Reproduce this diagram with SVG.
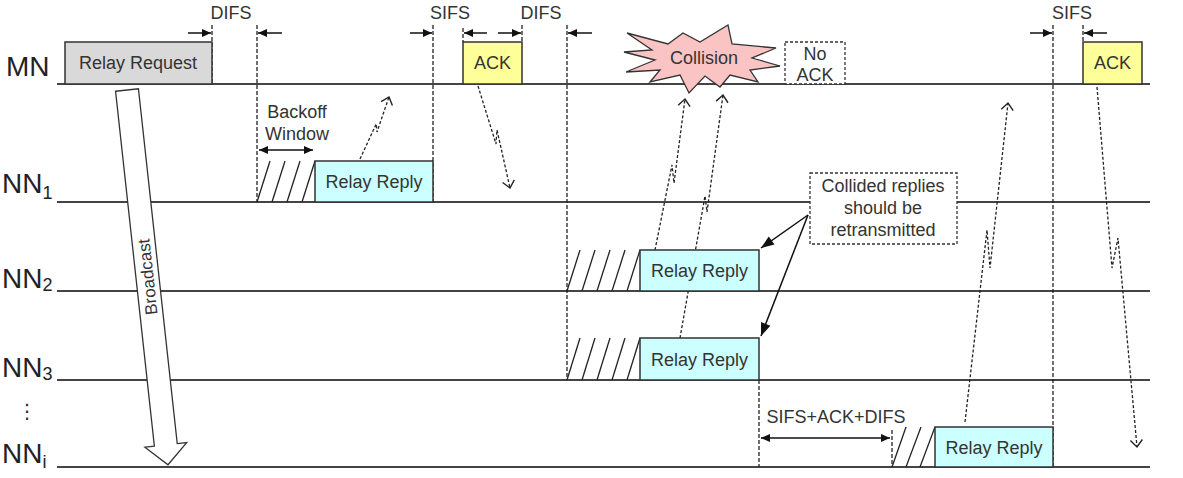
<svg xmlns="http://www.w3.org/2000/svg" width="1183" height="478" viewBox="0 0 1183 478">
<style>
.tl{stroke:#444;stroke-width:2;fill:none}
.vd{stroke:#222;stroke-width:1.3;stroke-dasharray:4 2;fill:none}
.box{stroke:#333;stroke-width:1.5}
.rr{fill:#ccffff}
.ack{fill:#ffff99}
.dbox{fill:#fff;stroke:#333;stroke-width:1.3;stroke-dasharray:3 2}
.t{font-family:"Liberation Sans",Arial,sans-serif;font-size:18px;fill:#333;text-anchor:middle}
.lbl{font-family:"Liberation Sans",Arial,sans-serif;font-size:28px;fill:#222}
.sub{font-size:18px}
.sig{stroke:#222;stroke-width:1.3;stroke-dasharray:3 2;fill:none;marker-end:url(#open)}
.hatch{stroke:#222;stroke-width:1.3}
.sm{stroke:#111;stroke-width:1.5;marker-end:url(#fs)}
.dbl{stroke:#111;stroke-width:1.5;marker-end:url(#fs);marker-start:url(#fs)}
.big{stroke:#111;stroke-width:1.5;marker-end:url(#fb)}
</style>
<defs>
<marker id="open" viewBox="-10 -10 20 20" markerWidth="20" markerHeight="20" refX="0" refY="0" orient="auto" markerUnits="userSpaceOnUse">
<path d="M-7,-6 L0,0 L-7,6" fill="none" stroke="#222" stroke-width="1.4"/>
</marker>
<marker id="fs" viewBox="-10 -10 20 20" markerWidth="20" markerHeight="20" refX="0" refY="0" orient="auto-start-reverse" markerUnits="userSpaceOnUse">
<path d="M-9,-4 L0,0 L-9,4 z" fill="#111"/>
</marker>
<marker id="fb" viewBox="-15 -10 20 20" markerWidth="20" markerHeight="20" refX="0" refY="0" orient="auto" markerUnits="userSpaceOnUse">
<path d="M-13,-5 L0,0 L-13,5 z" fill="#111"/>
</marker>
</defs>

<g id="timelines">
<line class="tl" x1="57" y1="84" x2="1150" y2="84"/>
<line class="tl" x1="57" y1="202" x2="1150" y2="202"/>
<line class="tl" x1="57" y1="291" x2="1150" y2="291"/>
<line class="tl" x1="57" y1="380" x2="1150" y2="380"/>
<line class="tl" x1="57" y1="467" x2="1150" y2="467"/>
</g>

<g id="labels">
<text class="lbl" x="6" y="76">MN</text>
<text class="lbl" x="2" y="193">NN<tspan class="sub" dy="6">1</tspan></text>
<text class="lbl" x="2" y="288">NN<tspan class="sub" dy="3">2</tspan></text>
<text class="lbl" x="2" y="377">NN<tspan class="sub" dy="3">3</tspan></text>
<text class="lbl" x="2" y="463">NN<tspan class="sub" dy="5">i</tspan></text>
<text class="t" x="27" y="418" style="font-family:'DejaVu Sans',sans-serif;font-size:20px">⋮</text>
</g>

<g id="connectors">
<line class="vd" x1="212" y1="25" x2="212" y2="84"/>
<line class="vd" x1="257" y1="25" x2="257" y2="202"/>
<line class="vd" x1="433" y1="25" x2="433" y2="202"/>
<line class="vd" x1="463" y1="28" x2="463" y2="42"/>
<line class="vd" x1="522" y1="25" x2="522" y2="42"/>
<line class="vd" x1="567" y1="25" x2="567" y2="380"/>
<line class="vd" x1="1053" y1="25" x2="1053" y2="467"/>
<line class="vd" x1="1083" y1="25" x2="1083" y2="42"/>
<line class="vd" x1="759" y1="380" x2="759" y2="467"/>
<line class="vd" x1="892" y1="430" x2="892" y2="467"/>
<line class="sm" x1="188" y1="33" x2="211" y2="33"/>
<line class="sm" x1="282" y1="33" x2="258" y2="33"/>
<line class="sm" x1="410" y1="33" x2="432" y2="33"/>
<line class="sm" x1="487" y1="33" x2="464" y2="33"/>
<line class="sm" x1="498" y1="33" x2="521" y2="33"/>
<line class="sm" x1="592" y1="33" x2="568" y2="33"/>
<line class="sm" x1="1030" y1="33" x2="1052" y2="33"/>
<line class="sm" x1="1107" y1="33" x2="1084" y2="33"/>
<line class="dbl" x1="259" y1="150" x2="313" y2="150"/>
<line class="dbl" x1="761" y1="438" x2="890" y2="438"/>
<path class="sig" d="M360,159 L376.2,124 L377,132 L389,97"/>
<path class="sig" d="M478,86 L496,144 L497,130 L510,188"/>
<path class="sig" d="M655,250 L672,165 L674,183 L685,99"/>
<path class="sig" d="M680,338 L705,196 L707,212 L723,95"/>
<path class="sig" d="M965,422 L987,230 L990,268 L1008,103"/>
<path class="sig" d="M1097,87 L1112,268 L1118,238 L1137,447"/>
</g>

<g id="broadcast" transform="translate(127,90) rotate(-6.24)">
<polygon points="-11.5,0 11.5,0 11.5,357 21,357 0,377 -21,357 -11.5,357" fill="#fff" stroke="#333" stroke-width="1.3"/>
<text class="t" x="0" y="0" transform="translate(0,188) rotate(-90)" dy="6" style="font-size:17px">Broadcast</text>
</g>

<g id="relay-request">
<rect class="box" x="65" y="42" width="147" height="42" fill="#d9d9d9"/>
<text class="t" x="138" y="69">Relay Request</text>
</g>

<g id="ack1">
<rect class="box ack" x="463" y="42" width="59" height="42"/>
<text class="t" x="492.5" y="69">ACK</text>
</g>

<g id="ack2">
<rect class="box ack" x="1083" y="42" width="59" height="42"/>
<text class="t" x="1112.5" y="69">ACK</text>
</g>

<g id="collision">
<polygon points="627,33 668,44 683,33 700,42 728,25 732,44 776,48 752,58 780,66 750,70 758,82 730,75 720,87 705,76 689,93 680,75 650,82 660,70 626,72 655,60 624,52 652,50" fill="#fbc4c4" stroke="#333" stroke-width="1.3"/>
<text class="t" x="704" y="64">Collision</text>
</g>

<g id="no-ack">
<rect class="dbox" x="785" y="42" width="60" height="42"/>
<text class="t" x="815" y="60">No</text>
<text class="t" x="815" y="81">ACK</text>
</g>

<g id="backoff">
<text class="t" x="297" y="118">Backoff</text>
<text class="t" x="297" y="140">Window</text>
</g>

<g id="nn1-reply">
<line class="hatch" x1="257" y1="202" x2="270" y2="161"/>
<line class="hatch" x1="272" y1="202" x2="285" y2="161"/>
<line class="hatch" x1="287" y1="202" x2="300" y2="161"/>
<line class="hatch" x1="302" y1="202" x2="315" y2="161"/>
<rect class="box rr" x="315" y="161" width="118" height="41"/>
<text class="t" x="374" y="188">Relay Reply</text>
</g>

<g id="nn2-reply">
<line class="hatch" x1="567" y1="291" x2="580" y2="250"/>
<line class="hatch" x1="582" y1="291" x2="595" y2="250"/>
<line class="hatch" x1="597" y1="291" x2="610" y2="250"/>
<line class="hatch" x1="612" y1="291" x2="625" y2="250"/>
<line class="hatch" x1="627" y1="291" x2="640" y2="250"/>
<rect class="box rr" x="640" y="250" width="119" height="41"/>
<text class="t" x="699.5" y="277">Relay Reply</text>
</g>

<g id="nn3-reply">
<line class="hatch" x1="567" y1="380" x2="580" y2="338"/>
<line class="hatch" x1="582" y1="380" x2="595" y2="338"/>
<line class="hatch" x1="597" y1="380" x2="610" y2="338"/>
<line class="hatch" x1="612" y1="380" x2="625" y2="338"/>
<line class="hatch" x1="627" y1="380" x2="640" y2="338"/>
<rect class="box rr" x="640" y="338" width="119" height="42"/>
<text class="t" x="699.5" y="365.5">Relay Reply</text>
</g>

<g id="nni-reply">
<line class="hatch" x1="892" y1="467" x2="906" y2="427"/>
<line class="hatch" x1="906" y1="467" x2="921" y2="427"/>
<line class="hatch" x1="920" y1="467" x2="935" y2="427"/>
<rect class="box rr" x="935" y="427" width="118" height="40"/>
<text class="t" x="994" y="453.5">Relay Reply</text>
<text class="t" x="836" y="423">SIFS+ACK+DIFS</text>
</g>

<g id="ifs-labels">
<text class="t" x="231" y="19">DIFS</text>
<text class="t" x="450" y="19">SIFS</text>
<text class="t" x="541" y="19">DIFS</text>
<text class="t" x="1072" y="19">SIFS</text>
</g>

<g id="collided-note">
<rect class="dbox" x="810" y="173" width="147" height="71"/>
<text class="t" x="883" y="192">Collided replies</text>
<text class="t" x="883" y="214">should be</text>
<text class="t" x="883" y="236">retransmitted</text>
<line class="big" x1="808" y1="215" x2="761" y2="248"/>
<line class="big" x1="808" y1="215" x2="761" y2="336"/>
</g>
</svg>
